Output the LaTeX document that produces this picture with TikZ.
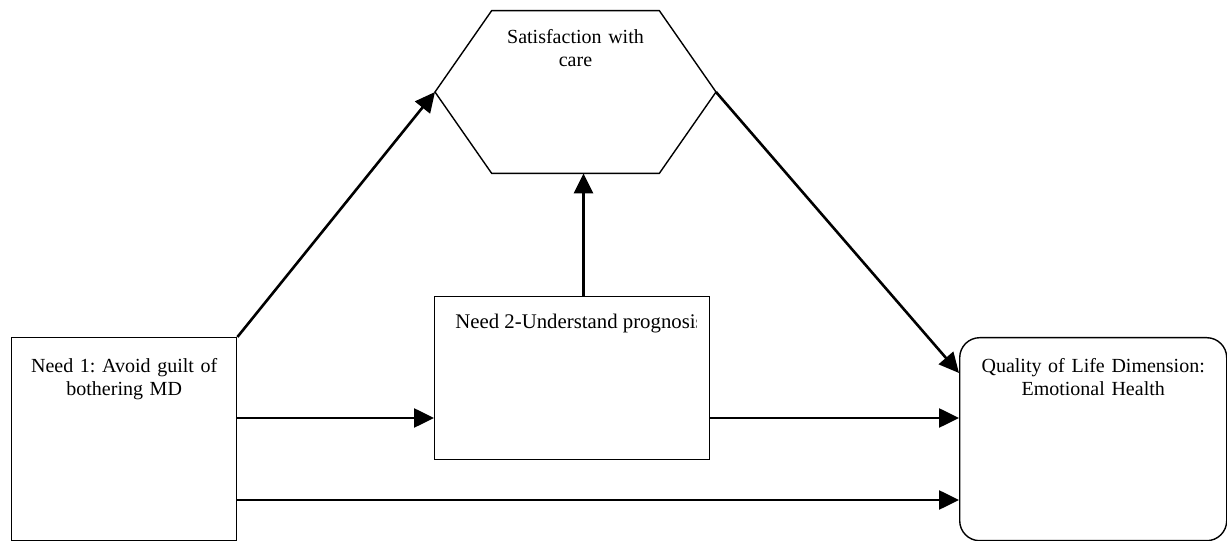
\documentclass[tikz,border=0pt]{standalone}
\usepackage{fontspec}
\setmainfont{Liberation Serif}
\usetikzlibrary{arrows.meta}
\frenchspacing

\begin{document}
\begin{tikzpicture}[x=1pt, y=1pt,
        BoxStyle/.style = { draw, line width = .7pt, anchor = north west,
          inner sep = 0pt, align = center,
          font = \fontsize{10}{11.5}\selectfont },
        TextStyle/.style = { inner sep = 0pt, align = center,
          font = \fontsize{10}{11.5}\selectfont },
        LinkStyle/.style = { line width = 1.3pt,
          -{Triangle[length = 10pt, width = 9.5pt]} }
      ]
      \useasboundingbox (0,0) rectangle (613.5,270.5);
      % the three boxes
      \node[BoxStyle, text width = 112.5pt, text height = 17.5pt,
        text depth = 84pt] (need1) at (5.5,102)
        {Need 1: Avoid guilt of\\bothering MD};
      \node[BoxStyle, minimum width = 137.5pt,
        minimum height = 81.5pt] (need2) at (217,122.5) {};
      \begin{scope}
        \clip (need2.south west) rectangle ([xshift=-7pt]need2.north east);
        \node[TextStyle, anchor = north west, text height = 16pt,
          text depth = 0pt, font = \fontsize{10.4}{11.5}\selectfont]
          (need2txt) at ([xshift=10.5pt]need2.north west)
          {Need 2-Understand prognosis};
      \end{scope}
      \node[BoxStyle, rounded corners = 10pt, text width = 133.5pt,
        text height = 17.5pt, text depth = 84pt] (qol) at (479.5,102)
        {Quality of Life Dimension:\\Emotional Health};
      % the hexagon
      \coordinate (hexNW) at (245.85,265.2);
      \coordinate (hexNE) at (329.65,265.2);
      \coordinate (hexE)  at (358,224.5);
      \coordinate (hexSE) at (329.65,183.8);
      \coordinate (hexSW) at (245.85,183.8);
      \coordinate (hexW)  at (217.5,224.5);
      \draw[line width = .7pt] (hexNW) -- (hexNE) -- (hexE) -- (hexSE)
        -- (hexSW) -- (hexW) -- cycle;
      \node[TextStyle, anchor = north, text width = 100pt,
        text height = 16.3pt] (sat) at (287.75,265.2)
        {Satisfaction with\\care};
      % rows and columns of the arrows
      \coordinate (rowA) at (0,61.5);
      \coordinate (rowB) at (0,20.5);
      \coordinate (colA) at (291.75,0);
      \coordinate (rowC) at (0,84);
      \draw[LinkStyle] (need1.north east) -- (hexW);
      \draw[LinkStyle] (need1.east |- rowA) -- (need2.west |- rowA);
      \draw[LinkStyle] (need1.east |- rowB) -- (qol.west |- rowB);
      \draw[LinkStyle] (need2.east |- rowA) -- (qol.west |- rowA);
      \draw[LinkStyle] (need2.north -| colA) -- (hexSW -| colA);
      \draw[LinkStyle] (hexE) -- (qol.west |- rowC);
    \end{tikzpicture}
\end{document}
